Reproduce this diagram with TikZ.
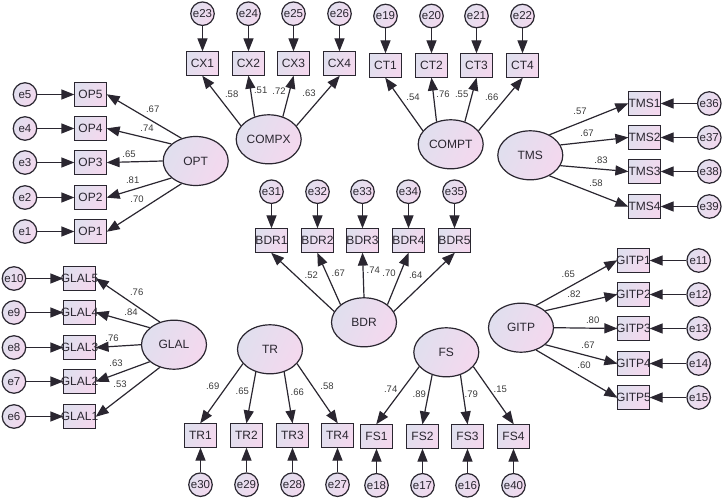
\documentclass[tikz,border=0pt]{standalone}
\usepackage{fontspec}
\setmainfont{Liberation Sans}
\usetikzlibrary{arrows.meta,shapes.geometric,backgrounds}
\definecolor{lav}{HTML}{E0DFEE}
\definecolor{pnk}{HTML}{F4D8EE}
\definecolor{ink}{HTML}{2A2630}
\definecolor{lab}{HTML}{3A3A3A}
\newcommand{\ctxt}[1]{\makebox[0pt][c]{#1}}
\tikzset{
  grad/.style={left color=lav,right color=pnk,shading angle=65,draw=ink,line width=1.2pt,inner sep=0pt,text=ink},
  obsbox/.style={grad,rectangle,minimum width=32pt,minimum height=24pt,font=\fontsize{12}{13}\selectfont},
  latent/.style={grad,ellipse,minimum width=65pt,minimum height=49pt,font=\fontsize{12}{13}\selectfont},
  errc/.style={grad,circle,minimum size=23.5pt,font=\fontsize{11.5}{12}\selectfont},
  conn/.style={draw=ink,line width=1.2pt,-{Triangle[length=13pt,width=10pt]},shorten >=-0.5pt},
  coef/.style={font=\fontsize{9.5}{10}\selectfont,text=lab,inner sep=0pt}
}
\begin{document}
\begin{tikzpicture}[x=1pt,y=-1pt]
\useasboundingbox (0,0) rectangle (724,500);
% observed variables
\foreach \n/\x/\y in {
 OP5/90.5/94.5,OP4/90.5/128.5,OP3/90.5/162.5,OP2/90.5/197.5,OP1/90.5/231.5,
 GLAL5/79.5/278.5,GLAL4/79.5/312.5,GLAL3/79.5/347.5,GLAL2/79.5/381.5,GLAL1/79.5/416.5,
 CX1/202.5/63.5,CX2/248.5/63.5,CX3/293.5/63.5,CX4/339.5/63.5,
 CT1/385.5/65.5,CT2/431.5/65.5,CT3/476.5/65.5,CT4/522.5/65.5,
 TMS1/644.5/103.5,TMS2/644.5/137.5,TMS3/644.5/171.5,TMS4/644.5/206.5,
 GITP1/633.5/260.5,GITP2/633.5/294.5,GITP3/633.5/328.5,GITP4/633.5/363.5,GITP5/633.5/397.5,
 BDR1/271.5/240.5,BDR2/317.5/240.5,BDR3/362.5/240.5,BDR4/408.5/240.5,BDR5/454.5/240.5,
 TR1/200.5/435.5,TR2/246.5/435.5,TR3/292.5/435.5,TR4/337.5/435.5,
 FS1/376.5/436.5,FS2/422.5/436.5,FS3/467.5/436.5,FS4/513.5/436.5}
 {\node[obsbox] (\n) at (\x,\y) {\ctxt{\n}};}
% latent variables
\foreach \n/\x/\y in {
 OPT/195.7/161,GLAL/174/344.7,COMPX/268.7/139.3,COMPT/450.7/144.3,
 TMS/530.3/155.3,GITP/521/327.7,BDR/364/322.3,TR/270/349.3,FS/446.3/352.3}
 {\node[latent] (\n) at (\x,\y) {\n};}
% error terms
\foreach \n/\x/\y in {
 e5/25/94.5,e4/25/128.5,e3/25/162.5,e2/25/197.5,e1/25/231.5,
 e10/14/278.5,e9/14/312.5,e8/14/347.5,e7/14/381.5,e6/14/416.5,
 e23/202.5/13.7,e24/248.5/13.7,e25/293.5/13.7,e26/339.5/13.7,
 e19/385.5/16,e20/431.5/16,e21/476.5/16,e22/522.5/16,
 e36/709.3/103.5,e37/709.3/137.5,e38/709.3/171.5,e39/709.3/206.5,
 e11/698.7/260.5,e12/698.7/294.5,e13/698.7/328.5,e14/698.7/363.5,e15/698.7/397.5,
 e31/271.5/191.7,e32/317.5/191.7,e33/362.5/191.7,e34/408.5/191.7,e35/454.5/191.7,
 e30/200.5/484.7,e29/246.5/484.7,e28/292.5/484.7,e27/337.5/484.7,
 e18/376.5/485.3,e17/422.5/485.3,e16/467.5/485.3,e40/513.5/485.3}
 {\node[errc] (\n) at (\x,\y) {\ctxt{\n}};}
\begin{scope}[on background layer]
% loadings
\foreach \a/\b in {
 OPT.122/OP5.east,OPT.145/OP4.east,OPT.180/OP3.east,OPT.215/OP2.east,OPT.238/OP1.east,
 GLAL.122/GLAL5.east,GLAL.145/GLAL4.east,GLAL.180/GLAL3.east,GLAL.215/GLAL2.east,GLAL.238/GLAL1.east,
 COMPX.154/CX1.south,COMPX.122/CX2.south,COMPX.58/CX3.south,COMPX.26/CX4.south,
 COMPT.154/CT1.south,COMPT.122/CT2.south,COMPT.58/CT3.south,COMPT.26/CT4.south,
 TMS.47/TMS1.west,TMS.19/TMS2.west,TMS.-19/TMS3.west,TMS.-47/TMS4.west,
 GITP.56/GITP1.west,GITP.35/GITP2.west,GITP.0/GITP3.west,GITP.-35/GITP4.west,GITP.-56/GITP5.west,
 BDR.160/BDR1.south,BDR.143/BDR2.south,BDR.90/BDR3.south,BDR.37/BDR4.south,BDR.20/BDR5.south,
 TR.208/TR1.north,TR.238/TR2.north,TR.302/TR3.north,TR.332/TR4.north,
 FS.208/FS1.north,FS.238/FS2.north,FS.302/FS3.north,FS.332/FS4.north}
 {\draw[conn] (\a) -- (\b);}
% error arrows
\foreach \a/\b in {
 e5/OP5.west,e4/OP4.west,e3/OP3.west,e2/OP2.west,e1/OP1.west,
 e10/GLAL5.west,e9/GLAL4.west,e8/GLAL3.west,e7/GLAL2.west,e6/GLAL1.west,
 e23/CX1.north,e24/CX2.north,e25/CX3.north,e26/CX4.north,
 e19/CT1.north,e20/CT2.north,e21/CT3.north,e22/CT4.north,
 e36/TMS1.east,e37/TMS2.east,e38/TMS3.east,e39/TMS4.east,
 e11/GITP1.east,e12/GITP2.east,e13/GITP3.east,e14/GITP4.east,e15/GITP5.east,
 e31/BDR1.north,e32/BDR2.north,e33/BDR3.north,e34/BDR4.north,e35/BDR5.north,
 e30/TR1.south,e29/TR2.south,e28/TR3.south,e27/TR4.south,
 e18/FS1.south,e17/FS2.south,e16/FS3.south,e40/FS4.south}
 {\draw[conn] (\a) -- (\b);}
\end{scope}
% coefficients
\foreach \t/\x/\y [count=\i] in {
 .67/152.7/109,.74/147/128.3,.65/129/154.3,.81/132.7/180,.70/137/199.7,
 .76/136.7/292.7,.84/131/312.3,.76/112/338,.63/116/363.7,.53/120/384.3,
 .58/231.7/94,.51/260.7/90.7,.72/279/91,.63/309/93.5,
 .54/413/97.7,.76/443/94,.55/461.7/94,.66/491.7/97,
 .57/580/111,.67/587/133.7,.83/601/160.3,.58/596/183.3,
 .65/568.3/274.3,.82/574/294.7,.80/592.7/320,.67/588/345.3,.60/584/365.7,
 .52/311.3/275.7,.67/338.3/273,.74/373.3/270,.70/389/273,.64/415.7/275.7,
 .69/212.7/386,.65/242.3/391.3,.66/297.3/392,.58/327/386.3,
 .74/390.7/389.3,.89/419.3/394,.79/471.3/394,.15/500.3/389.7}
 {\node[coef] (coef\i) at (\x,\y) {\t};}
\end{tikzpicture}
\end{document}
